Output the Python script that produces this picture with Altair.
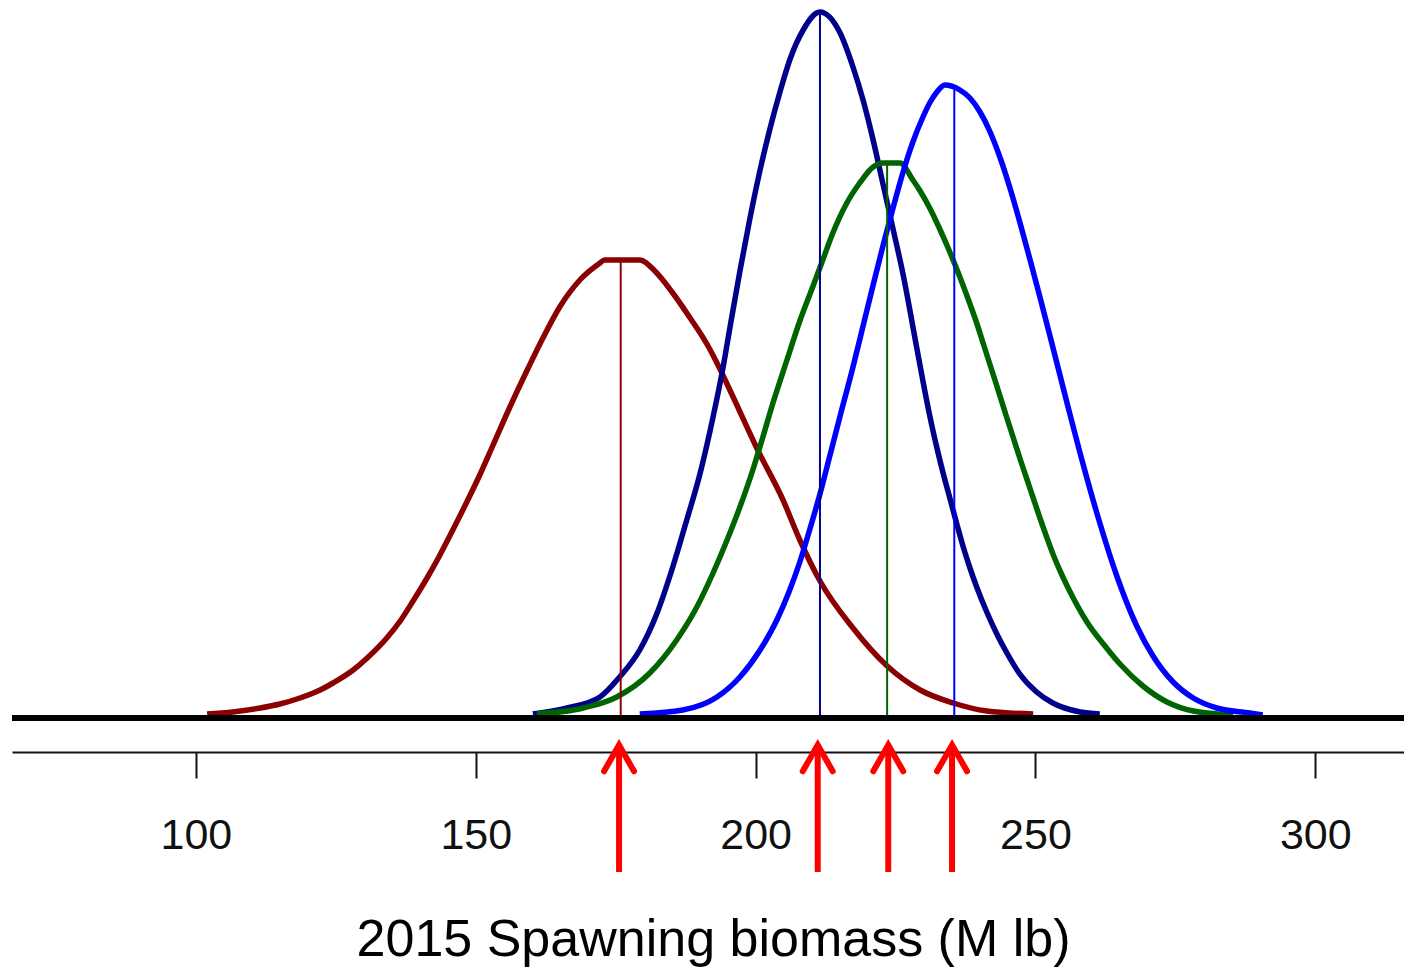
import altair as alt
import pandas as pd

# ---------------- data ----------------
SERIES = ["Run 1", "Run 2", "Run 3", "Run 4"]
COLORS = ["#8B0000", "#00008B", "#006400", "#0000FF"]

red_x = [102.0, 106.6, 111.5, 115.0, 118.6, 122.2, 124.5, 128.1, 130.6, 134.1,
         136.5, 138.8, 141.3, 143.6, 145.9, 148.4, 150.8, 153.1, 156.1, 159.2,
         162.0, 165.0, 168.6, 172.2, 173.0, 179.3, 182.0, 185.2, 188.3, 191.3,
         193.1, 195.9, 200.2, 204.9, 207.9, 211.5, 217.4, 223.5, 229.4, 235.3,
         241.3, 249.6]
red_h = [4, 6, 10, 14, 20, 28, 35, 48, 60, 80,
         97, 117, 140, 163, 188, 216, 244, 273, 311, 348,
         380, 411, 438, 455, 458, 458, 447, 425, 400, 374,
         355, 322, 270, 218, 178, 137, 90, 52, 28, 15,
         7, 4]

navy_x = [160.2, 166.3, 172.2, 175.7, 179.3, 182.4, 185.2, 187.7, 190.1, 192.4,
          194.2, 195.4, 197.2, 199.0, 200.8, 202.6, 204.4, 206.1, 208.5, 211.5,
          215.1, 217.4, 219.2, 221.0, 222.8, 224.6, 226.3, 228.8, 230.0, 231.2,
          232.4, 233.5, 234.7, 235.9, 237.1, 238.3, 239.5, 241.3, 243.1, 244.9,
          247.2, 250.2, 253.1, 258.0, 261.5]
navy_h = [4, 10, 21, 41, 68, 105, 151, 198, 245, 301,
          351, 390, 447, 500, 548, 590, 627, 658, 688, 706,
          685, 651, 618, 578, 533, 488, 445, 370, 334, 300,
          270, 245, 220, 195, 171, 150, 131, 106, 84, 65,
          44, 26, 15, 6, 4]

green_x = [160.9, 169.2, 175.2, 181.1, 185.9, 189.5, 192.4, 194.9, 197.2, 199.5,
           201.3, 203.1, 205.6, 207.9, 210.2, 212.0, 213.8, 216.3, 218.6, 221.0,
           222.8, 225.8, 228.1, 229.4, 231.2, 232.9, 234.7, 236.5, 238.3, 239.5,
           240.7, 243.1, 244.9, 246.0, 247.2, 248.4, 249.6, 250.8, 252.0, 253.2,
           254.9, 256.2, 259.2, 262.7, 265.1, 269.2, 273.5, 278.2, 285.3]
green_h = [4, 10, 21, 45, 78, 111, 145, 178, 211, 248,
           281, 315, 358, 397, 431, 458, 485, 515, 535, 551,
           555, 555, 538, 527, 509, 489, 466, 441, 414, 395,
           374, 332, 300, 281, 260, 240, 220, 200, 181, 163,
           141, 126, 96, 70, 54, 32, 16, 7, 3]

blue_x = [179.3, 187.0, 193.1, 197.2, 200.8, 203.8, 206.1, 207.9, 209.7, 211.5,
          213.3, 215.1, 217.4, 219.2, 221.0, 222.8, 224.6, 226.3, 228.1, 229.9,
          231.2, 232.4, 233.8, 236.5, 238.3, 240.1, 241.9, 243.7, 245.5, 247.2,
          249.0, 250.8, 252.6, 255.6, 258.5, 261.5, 264.6, 268.1, 271.0, 274.6,
          278.2, 282.4, 288.3, 290.6]
blue_h = [4, 8, 21, 41, 68, 98, 128, 156, 189, 224,
          263, 302, 351, 392, 433, 473, 511, 545, 576, 601,
          616, 626, 633, 628, 620, 606, 586, 560, 529, 496,
          459, 421, 382, 316, 254, 195, 141, 92, 62, 36,
          20, 10, 5, 3]

medians = [175.9, 211.5, 223.5, 235.5]
median_tops = [458, 706, 555, 628]
arrow_x = [175.6, 211.1, 223.7, 235.1]

tick_values = [100, 150, 200, 250, 300]
x_title = "2015 Spawning biomass (M lb)"

# ---------------- layout constants ----------------
X_DOMAIN = [67.14, 315.85]
Y_DOMAIN = [-34, 718]
ARROW_TOP = -27
ARROW_BOTTOM = -154
FONT = "Liberation Sans"

rows = []
for name, xs, hs in zip(SERIES, [red_x, navy_x, green_x, blue_x],
                        [red_h, navy_h, green_h, blue_h]):
    for x, h in zip(xs, hs):
        rows.append({"series": name, "biomass": x, "density": h})
curves = pd.DataFrame(rows)

meds = pd.DataFrame({"series": SERIES, "median": medians, "top": median_tops,
                     "base": [0] * len(SERIES)})
arrows = pd.DataFrame({"arrow": arrow_x,
                       "top": [ARROW_TOP] * len(arrow_x),
                       "bottom": [ARROW_BOTTOM] * len(arrow_x)})
base = pd.DataFrame({"base": [0]})

xscale = alt.Scale(domain=X_DOMAIN, nice=False, zero=False)
yscale = alt.Scale(domain=Y_DOMAIN, nice=False, zero=False)
cscale = alt.Scale(domain=SERIES, range=COLORS)

xaxis = alt.Axis(values=tick_values, format="d", grid=False,
                 domain=True, domainColor="#111111", domainWidth=2,
                 ticks=True, tickColor="#111111", tickWidth=2, tickSize=26,
                 labelFont=FONT, labelFontSize=43, labelColor="#111111",
                 labelPadding=36,
                 title=x_title, titleFont=FONT, titleFontSize=52,
                 titleFontWeight="normal", titleColor="black",
                 titleBaseline="alphabetic", titleY=203, titleX=701,
                 titleAlign="center")

lines = alt.Chart(curves).mark_line(strokeWidth=5.5, interpolate="monotone").encode(
    x=alt.X("biomass:Q", scale=xscale, axis=xaxis),
    y=alt.Y("density:Q", scale=yscale, axis=None),
    color=alt.Color("series:N", scale=cscale, legend=None),
)

vlines = alt.Chart(meds).mark_rule(strokeWidth=2).encode(
    x=alt.X("median:Q", scale=xscale),
    y=alt.Y("base:Q", scale=yscale),
    y2="top:Q",
    color=alt.Color("series:N", scale=cscale, legend=None),
)

baseline = alt.Chart(base).mark_rule(strokeWidth=6, color="black").encode(
    y=alt.Y("base:Q", scale=yscale),
)

shafts = alt.Chart(arrows).mark_rule(strokeWidth=6, color="#FF0000").encode(
    x=alt.X("arrow:Q", scale=xscale),
    y=alt.Y("top:Q", scale=yscale),
    y2="bottom:Q",
)

heads = alt.Chart(arrows).mark_point(
    shape="M-1,1.75L0,0L1,1.75", size=900, filled=False, opacity=1,
    stroke="#FF0000", strokeWidth=6, strokeCap="round", strokeJoin="miter",
).encode(
    x=alt.X("arrow:Q", scale=xscale),
    y=alt.Y("top:Q", scale=yscale),
)

chart = alt.layer(lines, vlines, baseline, shafts, heads).properties(
    width=1392, height=752,
    autosize=alt.AutoSizeParams(type="none"),
    padding={"left": 12, "top": 0, "right": 0, "bottom": 219},
    background="white",
).configure_view(stroke=None)

chart.save("out.html", embed_options={"renderer": "svg", "actions": False})
